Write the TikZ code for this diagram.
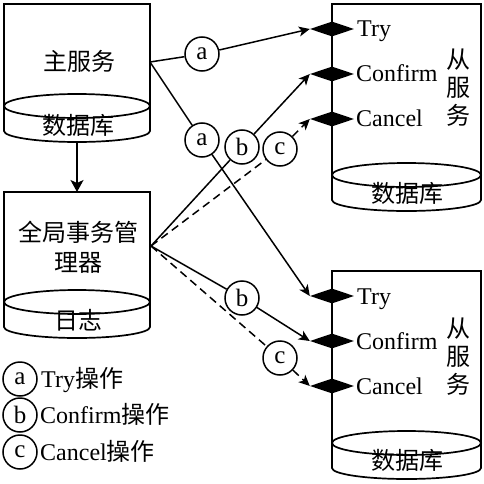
\documentclass[tikz,border=0pt]{standalone}
\usepackage{fontspec}
\setmainfont{Liberation Serif}
\newfontfamily\cjk{Noto Sans CJK SC}
\usetikzlibrary{shapes.geometric,arrows.meta}
\newcommand\mycyl[5]{% x1 x2 top ellipse-centre bottom-arc-centre
  \pgfmathsetmacro\cylcx{(#1+#2)/2}%
  \pgfmathsetmacro\cylrx{(#2-#1)/2}%
  \draw[box] (#1,#3) -- (#1,#5) arc[start angle=180,end angle=360,x radius=\cylrx pt,y radius=11pt] -- (#2,#3) -- cycle;
  \draw[box] (\cylcx,#4) ellipse[x radius=\cylrx pt,y radius=12pt];
}
\begin{document}
\begin{tikzpicture}[x=1pt,y=-1pt,
  box/.style={line width=1.7pt},
  op/.style={circle,draw,line width=1.5pt,minimum size=34pt,inner sep=0pt,fill=white,font=\fontsize{25}{25}\selectfont},
  hook/.style={diamond,fill=black,minimum width=44pt,minimum height=15pt,inner sep=0pt},
  conn/.style={line width=1.5pt},
  arr/.style={conn,-{Stealth[length=11pt,width=10pt,inset=3pt]}},
  dsh/.style={dash pattern=on 8pt off 5pt},
  zh/.style={font=\cjk\fontsize{24}{28}\selectfont,inner sep=0pt},
  en/.style={font=\fontsize{24}{28}\selectfont,anchor=west,inner sep=0pt,text height=16pt,text depth=0pt}
]
\useasboundingbox (0,0) rectangle (484,484);

% cylinders
\mycyl{4}{150}{4}{106}{131}
\mycyl{4}{150}{192}{302}{327}
\mycyl{332}{481}{4}{175}{200}
\mycyl{332}{481}{271}{443}{468}

% texts in boxes
\node[zh] (mainlbl) at (79,61) {主服务};
\node[zh] (maindb) at (78,125) {数据库};
\node[zh,align=center,font=\cjk\fontsize{24}{30}\selectfont] (glblbl) at (78,247) {全局事务管\\理器};
\node[zh] (glblog) at (78,320) {日志};
\node[zh,align=center] (s1lbl) at (458,88) {从\\服\\务};
\node[zh] (s1db) at (407,193) {数据库};
\node[zh,align=center] (s2lbl) at (458,357) {从\\服\\务};
\node[zh] (s2db) at (407,460) {数据库};

% interface diamonds
\node[hook] (t1) at (332,29) {};
\node[hook] (f1) at (332,74) {};
\node[hook] (x1) at (332,119) {};
\node[hook] (t2) at (332,296) {};
\node[hook] (f2) at (332,341) {};
\node[hook] (x2) at (332,386) {};
\node[en] (t1l) at (357,29) {Try};
\node[en] (f1l) at (356,74) {Confirm};
\node[en] (x1l) at (356,119) {Cancel};
\node[en] (t2l) at (357,296) {Try};
\node[en] (f2l) at (356,341) {Confirm};
\node[en] (x2l) at (356,386) {Cancel};

% operation circles
\node[op] (a1) at (202,54) {a};
\node[op] (a2) at (202,140) {a};
\node[op] (b1) at (242,147) {b};
\node[op] (c1) at (280,149) {c};
\node[op] (b2) at (242,298) {b};
\node[op] (c2) at (280,358) {c};

% connector ends
\coordinate (mR) at (150,62);
\coordinate (gR) at (151,246);
\coordinate (mB) at (77,142);
\coordinate (gT) at (77,192);

\draw[conn,-{Stealth[length=12pt,width=13pt,inset=3pt]}] (mB) -- (gT);
\draw[conn] (mR) -- (a1);
\draw[arr] (a1) -- (t1.west);
\draw[conn] (mR) -- (a2);
\draw[arr] (a2) -- (t2.west);
\draw[conn] (gR) -- (b1);
\draw[arr] (b1) -- (f1.west);
\draw[conn,dsh] (gR) -- (c1);
\draw[arr,dsh] (c1) -- (x1.west);
\draw[conn] (gR) -- (b2);
\draw[arr] (b2) -- (f2.west);
\draw[conn,dsh] (gR) -- (c2);
\draw[arr,dsh] (c2) -- (x2.west);

% legend
\node[op] (la) at (20,379) {a};
\node[op] (lb) at (20,415) {b};
\node[op] (lc) at (20,452) {c};
\node[en] (lat) at (41,379) {Try{\cjk 操作}};
\node[en] (lbt) at (40,415) {Confirm{\cjk 操作}};
\node[en] (lct) at (40,452) {Cancel{\cjk 操作}};
\end{tikzpicture}
\end{document}
